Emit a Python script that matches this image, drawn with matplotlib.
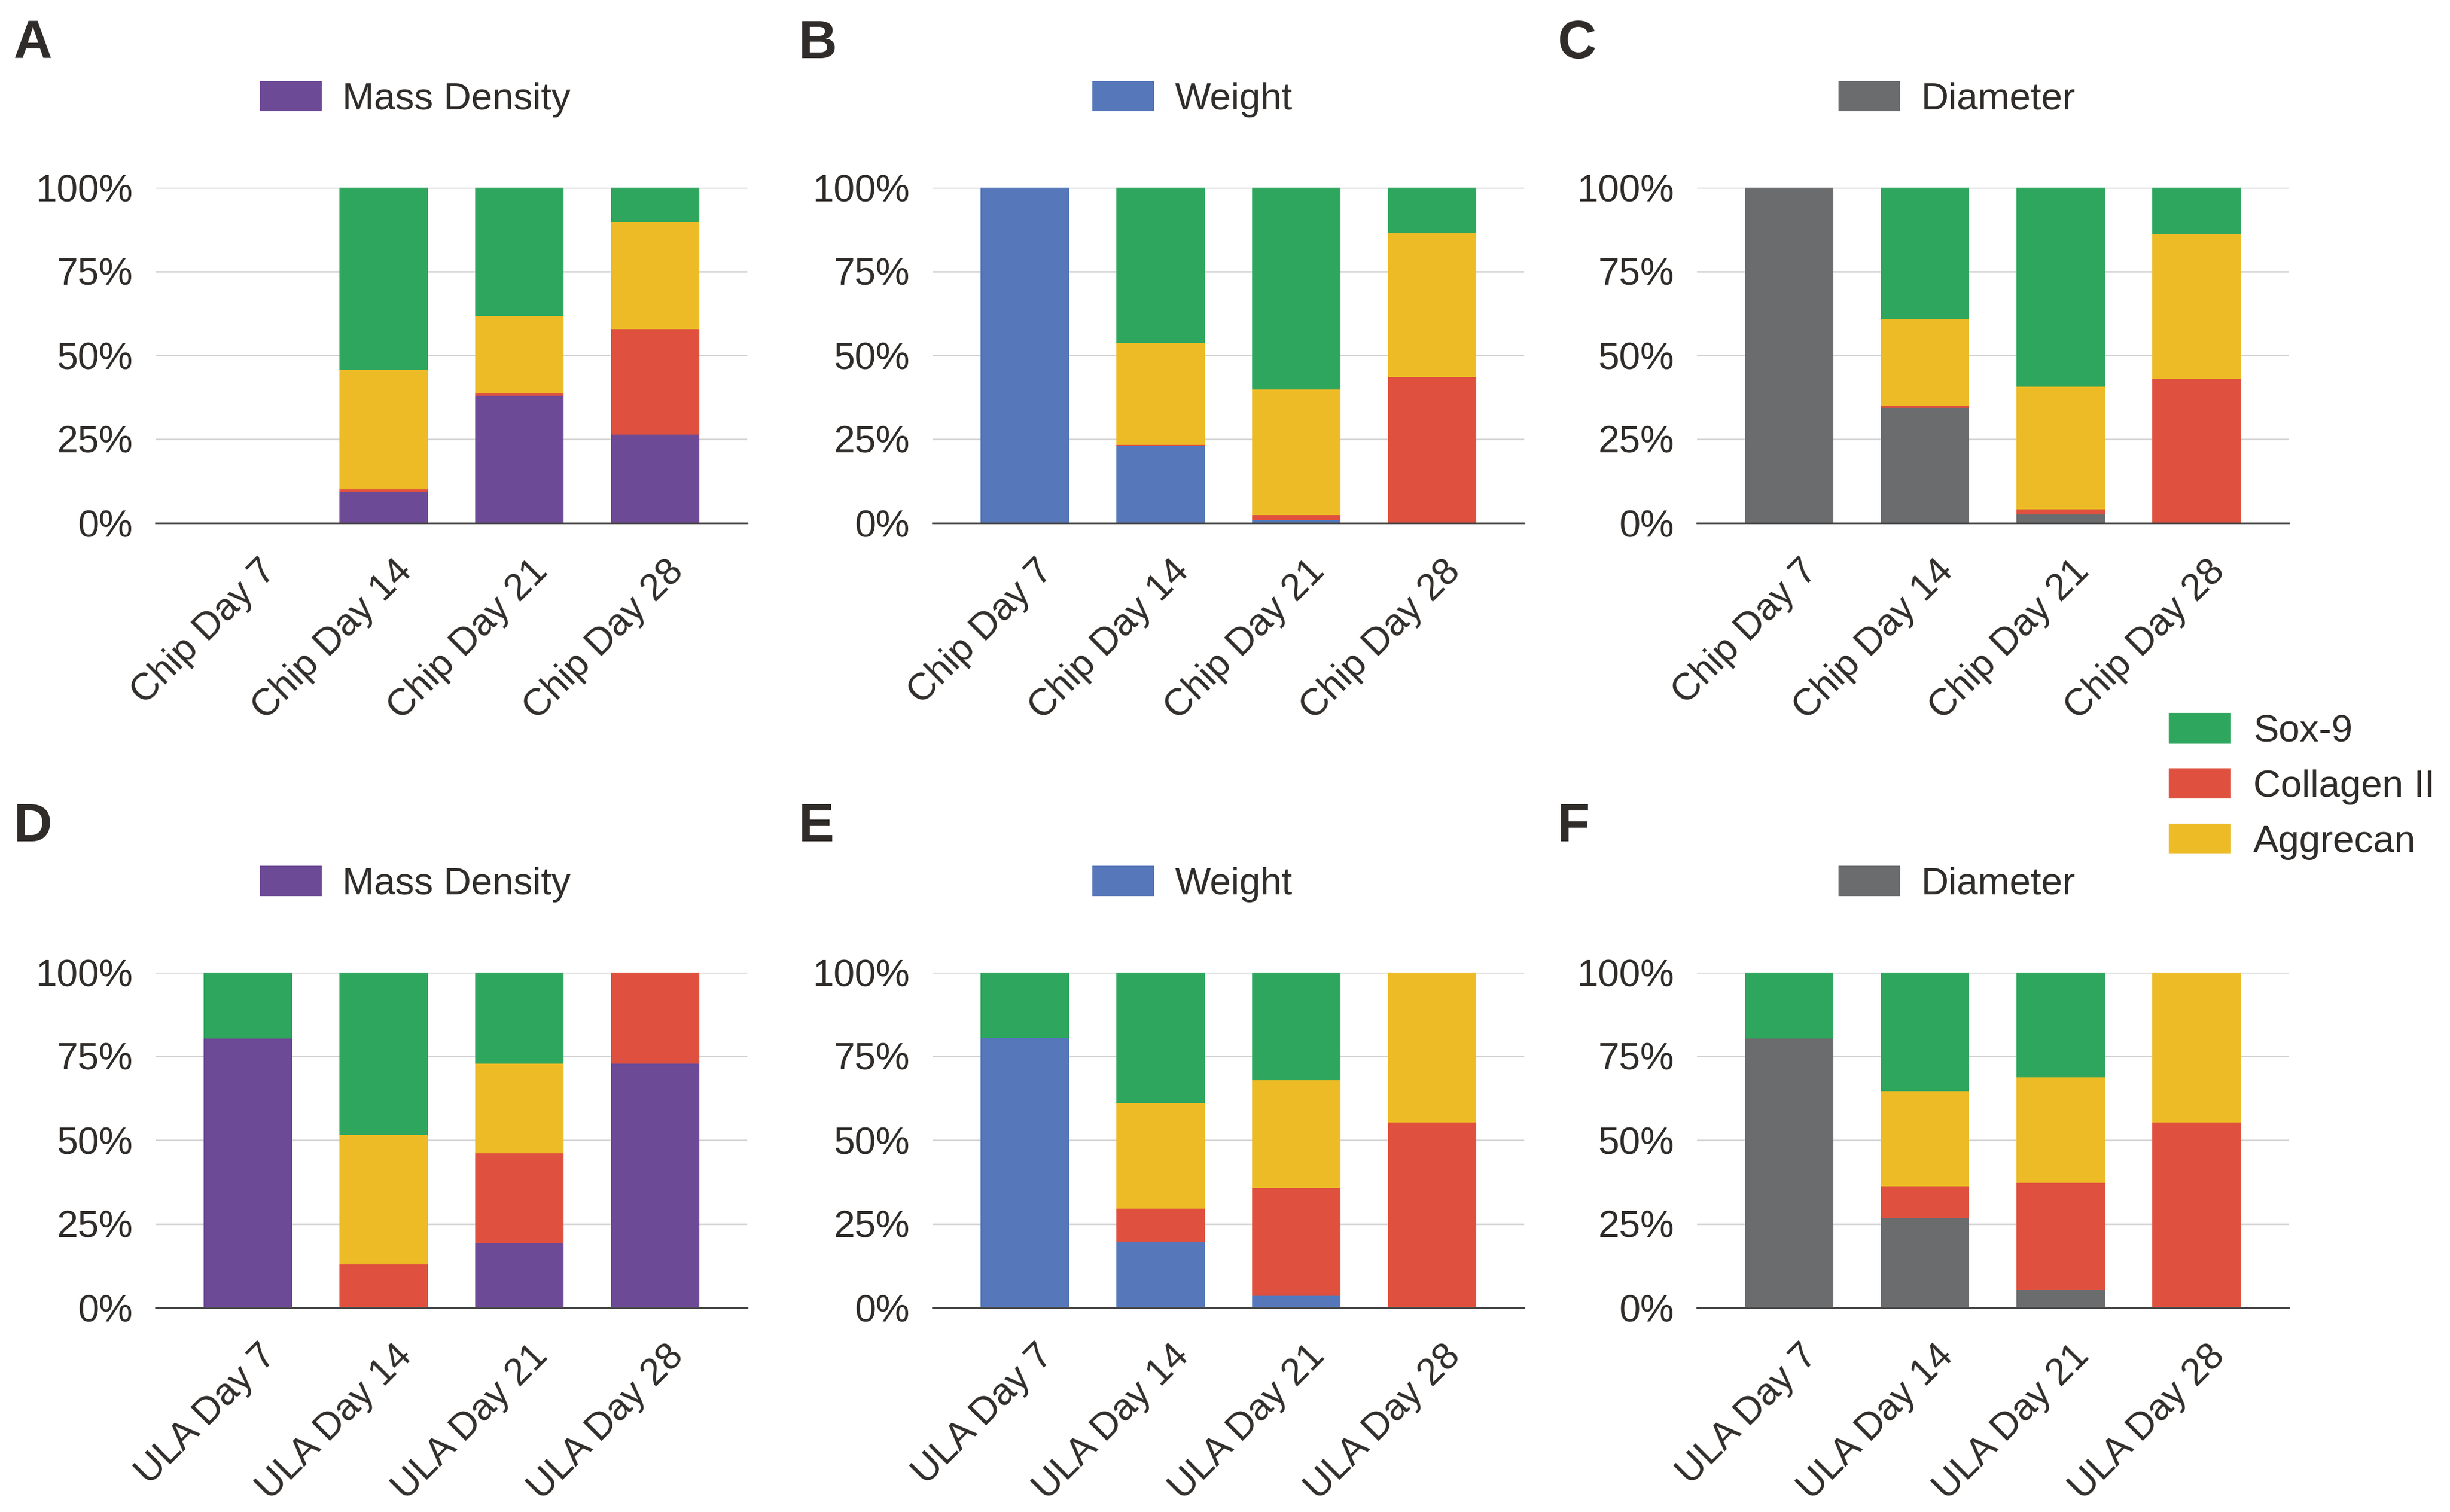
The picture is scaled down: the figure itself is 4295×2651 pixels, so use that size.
import numpy as np
import matplotlib
matplotlib.use('Agg')
import matplotlib.pyplot as plt
import matplotlib.transforms as mtransforms
from matplotlib.patches import Patch

plt.rcParams['font.family'] = ['Liberation Sans', 'DejaVu Sans']

# categories and ticks
chip_days = ['Chip Day 7', 'Chip Day 14', 'Chip Day 21', 'Chip Day 28']
ula_days = ['ULA Day 7', 'ULA Day 14', 'ULA Day 21', 'ULA Day 28']
yticks = [0, 25, 50, 75, 100]
ytick_labels = ['0%', '25%', '50%', '75%', '100%']

# share (%) of each segment, stacked bottom -> top:
# measure, Collagen II, Aggrecan, Sox-9
a_measure = [0, 9.2, 37.9, 26.3]
a_col = [0, 0.8, 0.9, 31.6]
a_agg = [0, 35.6, 22.9, 31.8]
a_sox = [0, 54.4, 38.3, 10.3]

b_measure = [100, 23.0, 0.85, 0]
b_col = [0, 0.3, 1.45, 43.5]
b_agg = [0, 30.4, 37.5, 42.9]
b_sox = [0, 46.3, 60.2, 13.6]

c_measure = [100, 34.4, 2.5, 0]
c_col = [0, 0.4, 1.5, 43.1]
c_agg = [0, 26.0, 36.6, 43.0]
c_sox = [0, 39.2, 59.4, 13.9]

d_measure = [80.3, 0, 19.2, 72.8]
d_col = [0, 13.0, 26.9, 27.2]
d_agg = [0, 38.6, 26.7, 0]
d_sox = [19.7, 48.4, 27.2, 0]

e_measure = [80.4, 19.7, 3.5, 0]
e_col = [0, 9.9, 32.2, 55.3]
e_agg = [0, 31.4, 32.1, 44.7]
e_sox = [19.6, 39.0, 32.2, 0]

f_measure = [80.3, 26.7, 5.4, 0]
f_col = [0, 9.5, 31.8, 55.3]
f_agg = [0, 28.4, 31.5, 44.7]
f_sox = [19.7, 35.4, 31.3, 0]

# colours
purple = '#6d4a96'
blue = '#5677b9'
gray = '#6b6c6e'
green = '#2ea65d'
red = '#df503f'
yellow = '#ecbb26'
txt = '#302c29'

panels = [
    ('A', chip_days, 'Mass Density', purple, a_measure, a_col, a_agg, a_sox),
    ('B', chip_days, 'Weight', blue, b_measure, b_col, b_agg, b_sox),
    ('C', chip_days, 'Diameter', gray, c_measure, c_col, c_agg, c_sox),
    ('D', ula_days, 'Mass Density', purple, d_measure, d_col, d_agg, d_sox),
    ('E', ula_days, 'Weight', blue, e_measure, e_col, e_agg, e_sox),
    ('F', ula_days, 'Diameter', gray, f_measure, f_col, f_agg, f_sox),
]

W, H = 4295, 2651
fig = plt.figure(figsize=(W / 300, H / 300), dpi=300)

lefts = [273, 1635, 2975]
bottoms = [917, 2293]
ax_w, ax_h = 1037, 588
letter_x = [24, 1400, 2730]
letter_base = [102, 1475]
fs = 16

for i, (letter, cats, name, color, meas, col, agg, sox) in enumerate(panels):
    r, c = divmod(i, 3)
    ax = fig.add_axes([lefts[c] / W, 1 - bottoms[r] / H, ax_w / W, ax_h / H])
    x = np.arange(len(cats))
    bottom = np.zeros(len(cats))
    for vals, clr in [(meas, color), (col, red), (agg, yellow), (sox, green)]:
        ax.bar(x, vals, 0.65, bottom=bottom, color=clr, linewidth=0)
        bottom += np.array(vals)

    ax.set_xlim(-0.68, 3.68)
    ax.set_ylim(0, 100)
    ax.set_yticks(yticks, ytick_labels)
    ax.yaxis.grid(True, color='#d0d0d0', lw=0.6)
    ax.set_axisbelow(True)
    for s in ['top', 'right', 'left']:
        ax.spines[s].set_visible(False)
    ax.spines['bottom'].set_color('#4a4a4a')
    ax.spines['bottom'].set_linewidth(0.7)
    ax.tick_params(axis='y', length=0, pad=9.6, labelsize=fs, labelcolor=txt)

    ax.set_xticks(x, cats, rotation=45, ha='right', va='center',
                  rotation_mode='anchor')
    ax.tick_params(axis='x', length=0, pad=18, labelsize=fs, labelcolor=txt)
    shift = mtransforms.ScaledTranslation(40 / 300, 0, fig.dpi_scale_trans)
    for lab in ax.get_xticklabels():
        lab.set_transform(lab.get_transform() + shift)

    ax.legend(handles=[Patch(color=color, label=name)], loc='center',
              bbox_to_anchor=(0.44, 1.262), frameon=False, fontsize=fs,
              handlelength=1.57, handleheight=0.75, handletextpad=0.57,
              labelcolor=txt)

    fig.text(letter_x[c] / W, 1 - letter_base[r] / H, letter, fontsize=22.5,
             weight='bold', color=txt, va='baseline', ha='left')

fig.legend(handles=[Patch(color=green, label='Sox-9'),
                    Patch(color=red, label='Collagen II'),
                    Patch(color=yellow, label='Aggrecan')],
           loc='center left', bbox_to_anchor=(3804 / W, 1 - 1380 / H),
           frameon=False, fontsize=fs, borderaxespad=0, borderpad=0,
           handlelength=1.57, handleheight=0.76, handletextpad=0.62,
           labelspacing=0.52, labelcolor=txt)

fig.savefig('out.png', dpi=300, facecolor='white')
